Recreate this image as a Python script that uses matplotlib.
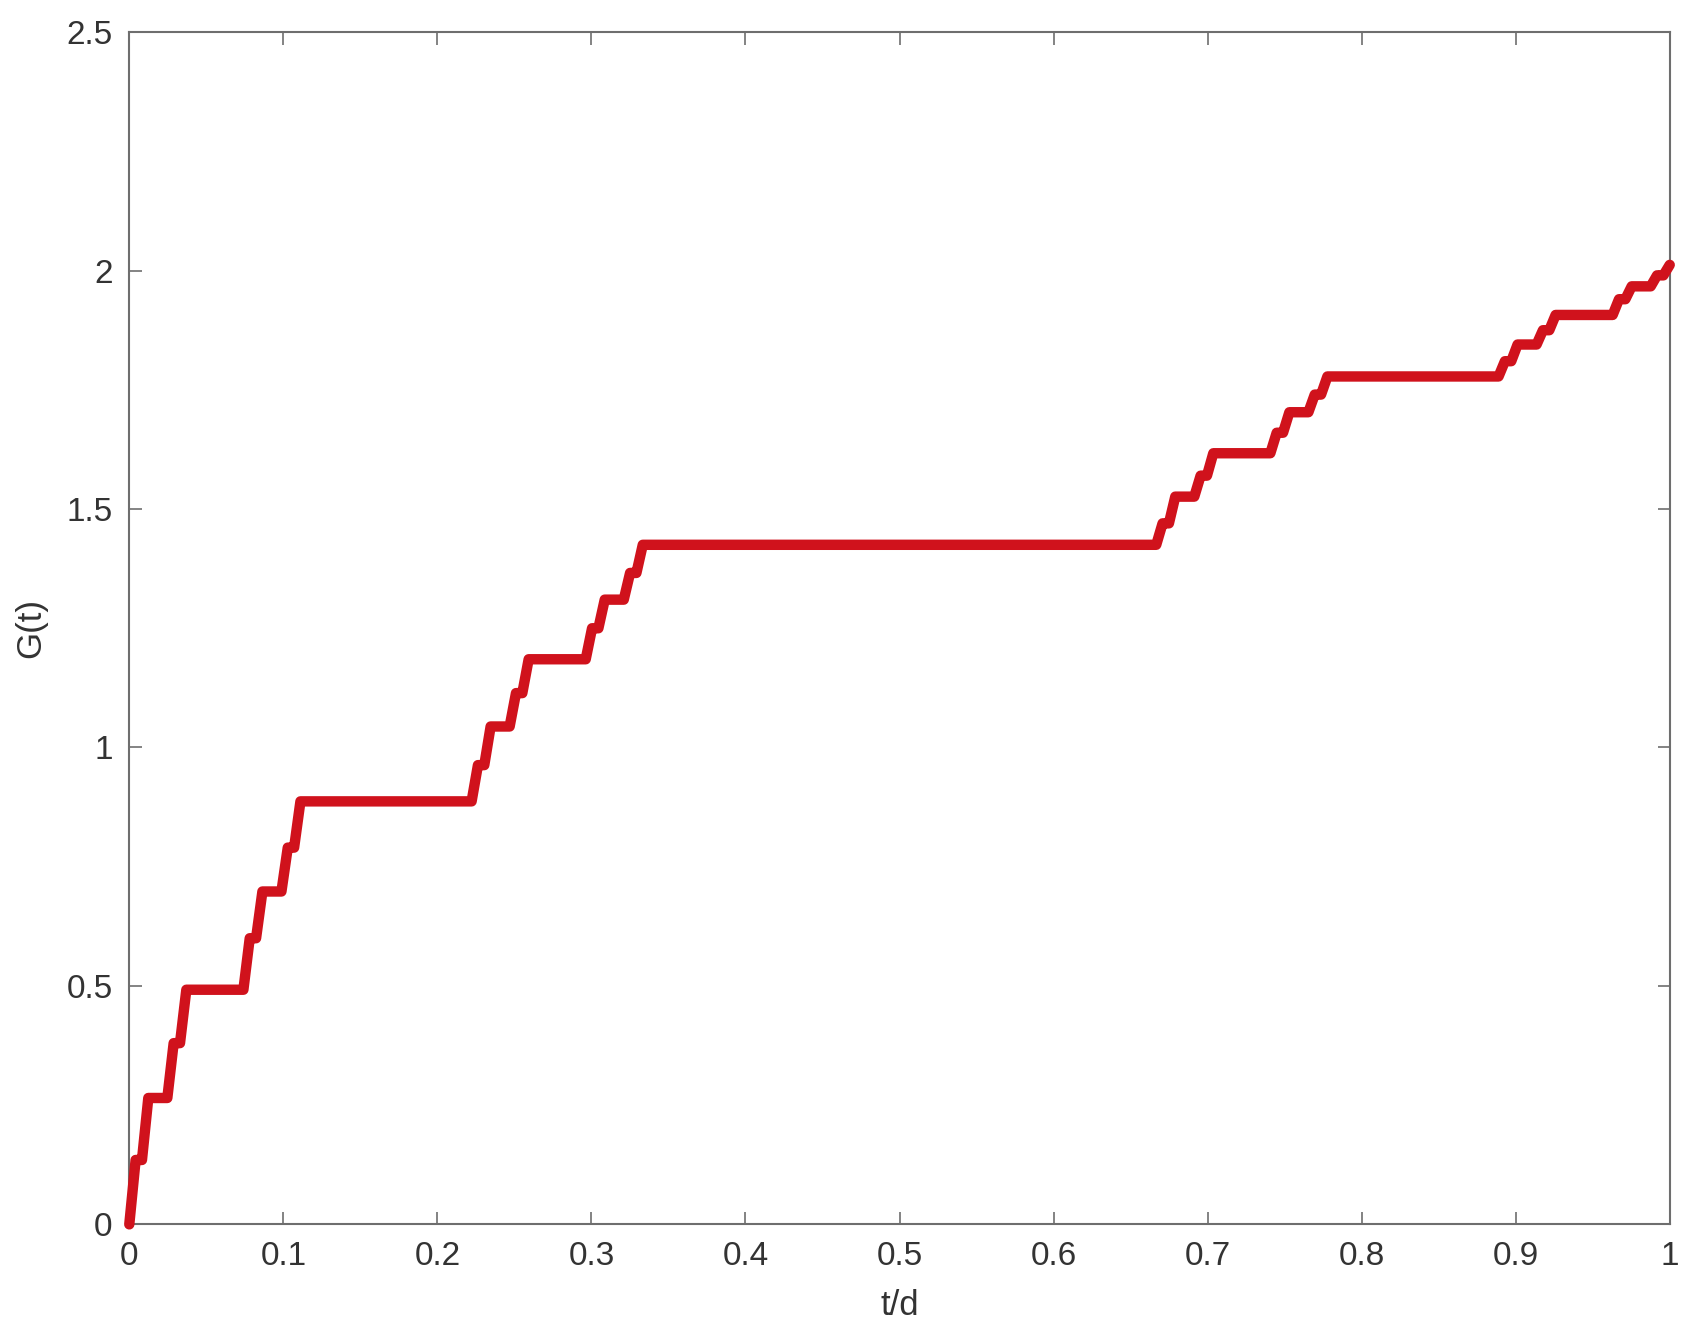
'''
Staircase curve G(t) against t/d, drawn in the style of a MATLAB figure.
'''

import numpy as np
import matplotlib
matplotlib.use("Agg")
import matplotlib.pyplot as plt


# flat parts of the curve, in units of d/243 (start, end) and the level G on each
FLAT_START = [1, 3, 7, 9, 19, 21, 25, 27, 55, 57, 61, 63, 73, 75, 79, 81,
              163, 165, 169, 171, 181, 183, 187, 189, 217, 219, 223, 225, 235, 237, 241]
FLAT_END = [2, 6, 8, 18, 20, 24, 26, 54, 56, 60, 62, 72, 74, 78, 80, 162,
            164, 168, 170, 180, 182, 186, 188, 216, 218, 222, 224, 234, 236, 240, 242]
FLAT_G = [0.135, 0.265, 0.38, 0.492, 0.60, 0.698, 0.79, 0.887, 0.963, 1.044, 1.114,
          1.185, 1.25, 1.31, 1.366, 1.425, 1.47, 1.526, 1.57, 1.617, 1.66, 1.703,
          1.74, 1.778, 1.81, 1.845, 1.875, 1.907, 1.94, 1.967, 1.99]
G_START = 0.0
G_END = 2.012
STEPS = 243

XTICKS = [0, 0.1, 0.2, 0.3, 0.4, 0.5, 0.6, 0.7, 0.8, 0.9, 1]
XTICKLABELS = ["0", "0.1", "0.2", "0.3", "0.4", "0.5", "0.6", "0.7", "0.8", "0.9", "1"]
YTICKS = [0, 0.5, 1, 1.5, 2, 2.5]
YTICKLABELS = ["0", "0.5", "1", "1.5", "2", "2.5"]

AXCOLOR = "#6e6e6e"
TXTCOLOR = "#333333"


def build_curve():
    ts = [0.0]
    gs = [G_START]
    for s, e, g in zip(FLAT_START, FLAT_END, FLAT_G):
        ts += [s / STEPS, e / STEPS]
        gs += [g, g]
    ts.append(1.0)
    gs.append(G_END)
    return np.array(ts), np.array(gs)


def main():
    plt.rcParams["font.family"] = ["Liberation Sans", "DejaVu Sans"]
    fig = plt.figure(figsize=(16.9, 13.4), dpi=100)
    ax = fig.add_axes([0.0765, 0.0863, 0.9115, 0.8897])

    t, g = build_curve()
    ax.plot(t, g, color="#d0121c", linewidth=7.5, solid_joinstyle="round",
            solid_capstyle="round", clip_on=False, zorder=3)

    ax.set_xlim(0, 1)
    ax.set_ylim(0, 2.5)
    ax.set_xticks(XTICKS)
    ax.set_xticklabels(XTICKLABELS)
    ax.set_yticks(YTICKS)
    ax.set_yticklabels(YTICKLABELS)

    ax.tick_params(direction="in", length=9, width=1.2, color=AXCOLOR,
                   labelcolor=TXTCOLOR, labelsize=24, top=True, right=True, pad=12)
    for sp in ax.spines.values():
        sp.set_color(AXCOLOR)
        sp.set_linewidth(1.5)

    ax.set_xlabel("t/d", fontsize=25, color=TXTCOLOR, labelpad=12)
    ax.set_ylabel("G(t)", fontsize=25, color=TXTCOLOR, labelpad=14)

    fig.savefig("out.png", dpi=100, facecolor="white")


if __name__ == "__main__":
    main()
